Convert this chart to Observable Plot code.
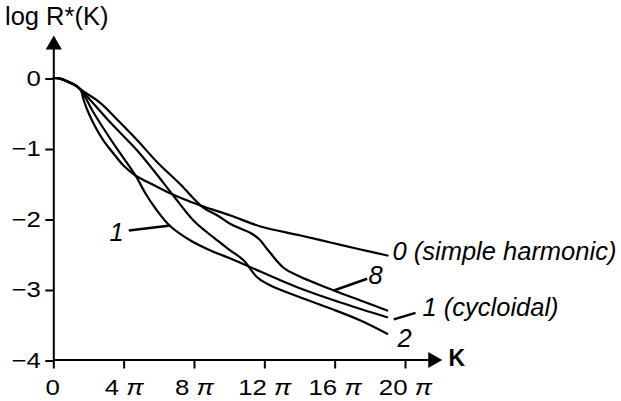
<!DOCTYPE html>
<html>
<head>
<meta charset="utf-8">
<script src="https://cdn.jsdelivr.net/npm/d3@7"></script>
<script src="https://cdn.jsdelivr.net/npm/@observablehq/plot@0.6"></script>
<style>
  html, body { margin: 0; padding: 0; background: #fff; }
  svg { display: block; }
</style>
</head>
<body>
<div id="chart"></div>
<script>
// K is expressed in units of π; values are log R*(K)
const tSimple = [0, 0.4, 0.78, 1.2, 1.518, 1.706, 1.99, 2.371, 2.826, 3.395, 3.964, 4.646, 5.5, 6.637, 8.343, 10.049, 11.755, 14.03, 15.736, 17.442, 18.977];
const vSimple = [0, -0.012, -0.05, -0.10, -0.163, -0.319, -0.504, -0.698, -0.887, -1.071, -1.241, -1.383, -1.496, -1.638, -1.809, -1.95, -2.106, -2.234, -2.333, -2.433, -2.518];

const tCycloidal = [0, 0.4, 0.78, 1.2, 1.518, 2.258, 2.94, 3.622, 4.646, 5.215, 5.783, 6.58, 7.774, 8.911, 10.049, 11.187, 13.841, 16.304, 18.959];
const vCycloidal = [0, -0.012, -0.05, -0.10, -0.163, -0.489, -0.759, -1.014, -1.383, -1.638, -1.851, -2.092, -2.305, -2.447, -2.56, -2.684, -2.967, -3.184, -3.393];

const tTwo = [0, 0.4, 0.78, 1.2, 1.518, 3.111, 4.743, 5.726, 6.75, 7.944, 9.082, 10.049, 10.805, 11.567, 12.323, 14.029, 15.736, 17.442, 18.959];
const vTwo = [0, -0.012, -0.05, -0.10, -0.163, -0.603, -1.028, -1.326, -1.652, -2.021, -2.262, -2.447, -2.589, -2.826, -2.943, -3.113, -3.27, -3.44, -3.628];

const tEight = [0, 0.4, 0.78, 1.2, 1.518, 2.656, 3.622, 4.76, 5.897, 7.205, 8.456, 9.309, 10.049, 11.187, 11.698, 12.153, 13.079, 13.858, 15.923, 17.44, 18.959];
const vEight = [0, -0.012, -0.05, -0.10, -0.163, -0.355, -0.595, -0.887, -1.199, -1.511, -1.83, -1.95, -2.071, -2.199, -2.291, -2.433, -2.695, -2.801, -3.014, -3.156, -3.298];

const xTicks = [0, 4, 8, 12, 16, 20];
const yTicks = [0, -1, -2, -3, -4];

// curve labels (text, anchor K/π, anchor log R*)
const labelTexts = ["0 (simple harmonic)", "8", "1 (cycloidal)", "2", "1"];
const labelT = [19.26, 17.90, 20.97, 19.54, 3.17];
const labelV = [-2.582, -2.929, -3.369, -3.817, -2.305];

// leader lines
const leaderT1 = [4.265, 15.923, 19.33];
const leaderV1 = [-2.163, -3.014, -3.424];
const leaderT2 = [6.636, 17.82, 20.57];
const leaderV2 = [-2.092, -2.848, -3.331];

const series = [
  {t: tSimple, v: vSimple, name: "0"},
  {t: tCycloidal, v: vCycloidal, name: "1"},
  {t: tTwo, v: vTwo, name: "2"},
  {t: tEight, v: vEight, name: "8"}
];
const curveData = series.flatMap(s => s.t.map((t, i) => ({K: t, R: s.v[i], curve: s.name})));
const labels = labelTexts.map((text, i) => ({text, K: labelT[i], R: labelV[i]}));
const leaders = leaderT1.map((t, i) => ({x1: t, y1: leaderV1[i], x2: leaderT2[i], y2: leaderV2[i]}));

const xFmt = d => d === 0 ? "0" : `${d} π`;
const yFmt = d => d === 0 ? "0" : "\u2212" + Math.abs(d);

const font = "'Liberation Sans', Arial, Helvetica, sans-serif";
const tickFont = 21.5;

const svg = Plot.plot({
  width: 621,
  height: 401,
  marginLeft: 53.3,
  marginRight: 216,
  marginTop: 77.5,
  marginBottom: 41.5,
  x: {domain: [0, 20]},
  y: {domain: [-4, 0]},
  style: {fontFamily: font, fontSize: "20px", color: "black", background: "white", overflow: "visible"},
  marks: [
    Plot.axisX({ticks: xTicks, tickFormat: xFmt, tickSize: 9, tickPadding: 11, strokeWidth: 2, fontSize: tickFont, label: null}),
    Plot.axisY({ticks: yTicks, tickFormat: yFmt, tickSize: 8, tickPadding: 5, strokeWidth: 2, fontSize: tickFont, dy: 1, label: null}),
    Plot.ruleX([0], {y1: -4, y2: 0.47, stroke: "black", strokeWidth: 2}),
    Plot.ruleY([-4], {x1: 0, x2: 21.5, stroke: "black", strokeWidth: 2}),
    Plot.dot([{K: 0, R: 0.471}], {x: "K", y: "R", symbol: "triangle", r: 6, fill: "black", stroke: "none"}),
    Plot.dot([{K: 21.56, R: -4}], {x: "K", y: "R", symbol: "triangle", r: 6, rotate: 90, fill: "black", stroke: "none"}),
    Plot.line(curveData, {x: "K", y: "R", z: "curve", stroke: "black", strokeWidth: 2.2, curve: "catmull-rom"}),
    Plot.link(leaders, {x1: "x1", y1: "y1", x2: "x2", y2: "y2", stroke: "black", strokeWidth: 2.5}),
    Plot.text(labels, {x: "K", y: "R", text: "text", textAnchor: "start", lineAnchor: "bottom", fontStyle: "italic", fontSize: 25.5, fill: "black"}),
    Plot.text([{K: 22.45, R: -4.092, text: "K"}], {x: "K", y: "R", text: "text", textAnchor: "start", lineAnchor: "bottom", fontWeight: "bold", fontSize: 23, fill: "black"}),
    Plot.text(["log R*(K)"], {text: d => d, frameAnchor: "top-left", dx: -48.8, dy: -53.5, textAnchor: "start", lineAnchor: "bottom", fontSize: 25.5, fill: "black"})
  ]
});

document.getElementById("chart").appendChild(svg);

// tick labels: italic π on the K axis, and the wider lettering of the original
const svgNS = "http://www.w3.org/2000/svg";
const xLabelSet = new Set(xTicks.map(xFmt));
const yLabelSet = new Set(yTicks.map(yFmt));
const stretch = 1.2;
svg.querySelectorAll("text").forEach(t => {
  const s = t.textContent;
  const isX = xLabelSet.has(s), isY = yLabelSet.has(s);
  if (!isX && !isY) return;
  t.setAttribute("font-size", tickFont);
  if (isX && s.endsWith("π")) {
    t.textContent = s.slice(0, -1);
    const ts = document.createElementNS(svgNS, "tspan");
    ts.setAttribute("font-style", "italic");
    ts.textContent = "π";
    t.appendChild(ts);
  }
  const b = t.getBBox();
  const cx = isY ? b.x + b.width : b.x + b.width / 2;
  const tr = t.getAttribute("transform") || "";
  t.setAttribute("transform", `${tr} translate(${cx},0) scale(${stretch},1) translate(${-cx},0)`);
});
</script>
</body>
</html>
